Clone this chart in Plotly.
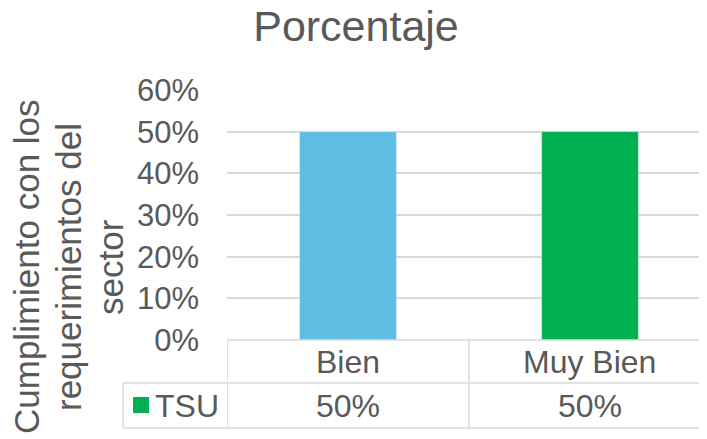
import plotly.graph_objects as go

# data
categorias = ['Bien', 'Muy Bien']
tsu = [0.50, 0.50]
colores = ['#5EBDE3', '#00B050']
serie = 'TSU'
titulo = 'Porcentaje'
titulo_y = ['Cumplimiento con los', 'requerimientos del', 'sector']

gris = '#595959'
linea = '#D9D9D9'
fuente = 'Liberation Sans, Arial, sans-serif'

fig = go.Figure()
fig.add_trace(go.Bar(x=categorias, y=tsu, marker_color=colores, width=0.4,
                     name=serie, showlegend=False))

# page body has an 8px margin, so the figure is 8px smaller than the window
fig.update_layout(
    width=699, height=431,
    margin=dict(l=219, r=0, t=82, b=99),
    paper_bgcolor='white', plot_bgcolor='white',
    font=dict(family=fuente, color=gris, size=31),
    title=dict(text=titulo, x=(356 - 227) / 480, xref='paper', xanchor='center',
               y=0.958, yanchor='middle', font=dict(size=43, color=gris)),
    xaxis=dict(range=[-0.5, 1.4835], showticklabels=False, showgrid=False,
               zeroline=False, showline=False),
    yaxis=dict(range=[0, 0.6], dtick=0.1, tickformat='.0%', showgrid=True,
               gridcolor=linea, gridwidth=1.5, zeroline=False, showline=False,
               ticks='', ticklabelstandoff=27, tickfont=dict(size=31, color=gris)),
)

# y axis title (three lines, rotated)
for i, txt in enumerate(titulo_y):
    fig.add_annotation(text=txt, xref='paper', yref='paper',
                       x=(26 + 42 * i - 227) / 480, y=(340 - 267) / 250,
                       textangle=-90, showarrow=False, xanchor='center', yanchor='middle',
                       font=dict(size=35, color=gris))

# data table under the axis
y_head = (340 - 383) / 250
y_bot = (340 - 428) / 250
x_left = (123 - 227) / 480
ls = dict(color=linea, width=1.5)
fig.add_shape(type='line', xref='paper', yref='paper', x0=0, x1=1, y0=0, y1=0, line=ls)
fig.add_shape(type='line', xref='paper', yref='paper', x0=x_left, x1=1, y0=y_head, y1=y_head, line=ls)
fig.add_shape(type='line', xref='paper', yref='paper', x0=x_left, x1=1, y0=y_bot, y1=y_bot, line=ls)
fig.add_shape(type='line', xref='paper', yref='paper', x0=x_left, x1=x_left, y0=y_head, y1=y_bot, line=ls)
for k in range(len(categorias)):
    fig.add_shape(type='line', xref='x', yref='paper', x0=k - 0.5, x1=k - 0.5, y0=0, y1=y_bot, line=ls)

for k, (cat, v) in enumerate(zip(categorias, tsu)):
    fig.add_annotation(text=cat, xref='x', yref='paper', x=k, y=y_head / 2,
                       showarrow=False, yanchor='middle', font=dict(size=32, color=gris))
    fig.add_annotation(text=f'{v:.0%}', xref='x', yref='paper', x=k, y=(y_head + y_bot) / 2,
                       showarrow=False, yanchor='middle', font=dict(size=32, color=gris))

# legend key + series name
fig.add_shape(type='rect', xref='paper', yref='paper',
              x0=(133 - 227) / 480, x1=(149 - 227) / 480,
              y0=(340 - 397) / 250, y1=(340 - 413) / 250,
              fillcolor=colores[1], line=dict(width=0))
fig.add_annotation(text=serie, xref='paper', yref='paper', x=(153 - 227) / 480,
                   y=(y_head + y_bot) / 2, xanchor='left', yanchor='middle',
                   showarrow=False, font=dict(size=32, color=gris))

fig.write_html("out.html")
